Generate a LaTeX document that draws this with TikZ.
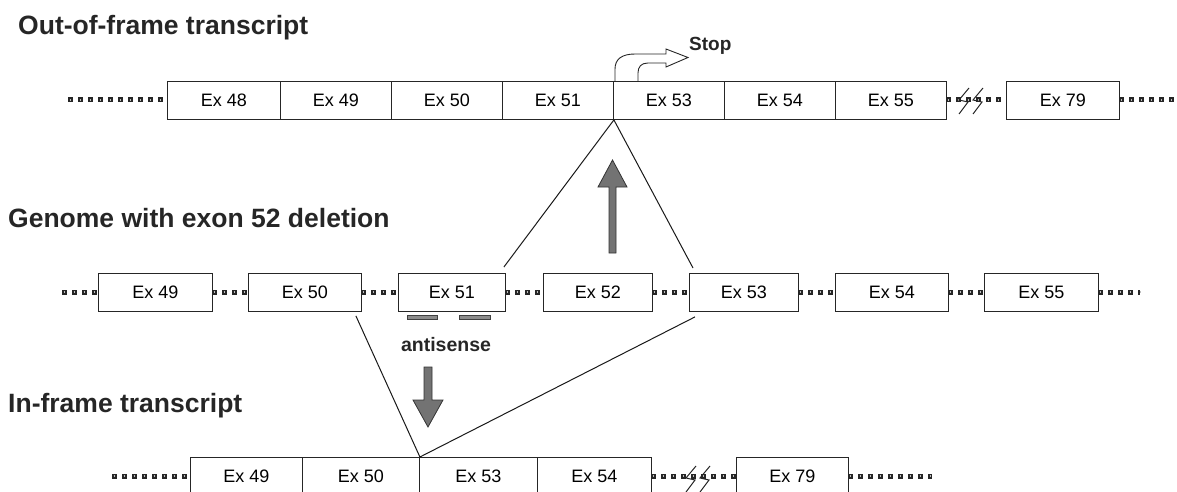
\documentclass[tikz,border=0pt]{standalone}
\usepackage{fontspec}
\setmainfont{Liberation Sans}
\usetikzlibrary{calc}
\begin{document}
\begin{tikzpicture}[x=1pt,y=-1pt,
  exon/.style={draw=black!85, line width=0.9pt, fill=white, minimum height=38pt,
    inner sep=0pt, anchor=north west, font=\fontsize{18}{20}\selectfont},
  heading/.style={anchor=base west, inner sep=0pt, text=black!85,
    font=\fontsize{26.5}{29}\selectfont\bfseries},
  dots/.style={draw=black!85, line width=5pt, dash pattern=on 5pt off 5pt,
    postaction={draw=black!25, line width=1.6pt,
      dash pattern=on 0pt off 1.7pt on 1.6pt off 6.7pt}},
  link/.style={draw=black!90, line width=1pt},
  brk/.style={draw=black!85, line width=1pt},
  bigarrow/.style={fill=black!55, draw=black!80, line width=0.8pt, line join=miter},
  probe/.style={fill=black!45, draw=black!75, line width=0.6pt}]
\useasboundingbox (0,0) rectangle (1177,492);
\clip (0,0) rectangle (1177,492);

% ---------- headings ----------
\node[heading] (h1) at (18,35) {Out-of-frame transcript};
\node[heading] (h2) at (8,227) {Genome with exon 52 deletion};
\node[heading] (h3) at (8,412) {In-frame transcript};

% ---------- out-of-frame transcript ----------
\draw[dots] (68,100) -- (167,100);
\draw[dots] (946,100) -- (1006,100);
\draw[dots] (1119,100) -- (1177,100);
\node[exon, minimum width=113pt] (o48) at (167,81) {Ex 48};
\node[exon, minimum width=111pt] (o49) at (280,81) {Ex 49};
\node[exon, minimum width=111pt] (o50) at (391,81) {Ex 50};
\node[exon, minimum width=111pt] (o51) at (502,81) {Ex 51};
\node[exon, minimum width=111pt] (o53) at (613,81) {Ex 53};
\node[exon, minimum width=111pt] (o54) at (724,81) {Ex 54};
\node[exon, minimum width=111pt] (o55) at (835,81) {Ex 55};
\node[exon, minimum width=113pt] (o79) at (1006,81) {Ex 79};
\coordinate (ob1) at (964,102);
\coordinate (ob2) at (978,102);
\foreach \c in {ob1,ob2}
  \draw[brk] (\c) ++(5,-14) -- ++(-10,12) -- ++(9,2) -- ++(-9,12);

% stop codon arrow
\begin{scope}[shift={(o53.north west)}]
  \draw[fill=white, draw=black!85, line width=0.9pt, line join=miter]
    (2,0) -- (2,-12) .. controls (2,-22) and (9,-27) .. (22,-27) -- (53,-27)
    -- (53,-32) -- (75,-23.5) -- (53,-14) -- (53,-18) -- (35,-18)
    .. controls (28,-18) and (25,-14) .. (25,-8) -- (25,0);
\end{scope}
\node[anchor=base west, inner sep=0pt, text=black!85,
  font=\fontsize{19}{21}\selectfont\bfseries] (stop) at (689,51) {Stop};

% ---------- genome with exon 52 deletion ----------
\draw[dots] (62,292) -- (98,292);
\draw[dots] (212,292) -- (248,292);
\draw[dots] (361,292) -- (398,292);
\draw[dots] (505,292) -- (543,292);
\draw[dots] (652,292) -- (689,292);
\draw[dots] (798,292) -- (835,292);
\draw[dots] (948,292) -- (984,292);
\draw[dots] (1098,292) -- (1140,292);
\node[exon, minimum width=114pt] (g49) at (98,273) {Ex 49};
\node[exon, minimum width=113pt] (g50) at (248,273) {Ex 50};
\node[exon, minimum width=107pt] (g51) at (398,273) {Ex 51};
\node[exon, minimum width=109pt] (g52) at (543,273) {Ex 52};
\node[exon, minimum width=109pt] (g53) at (689,273) {Ex 53};
\node[exon, minimum width=113pt] (g54) at (835,273) {Ex 54};
\node[exon, minimum width=114pt] (g55) at (984,273) {Ex 55};

% antisense oligonucleotides on exon 51
\draw[probe] (407,315) rectangle (437,319);
\draw[probe] (459,315) rectangle (490,319);
\node[anchor=base, inner sep=0pt, text=black!85,
  font=\fontsize{19.5}{21}\selectfont\bfseries] (anti) at (446,351) {antisense};

% ---------- in-frame transcript ----------
\draw[dots] (112,476) -- (190,476);
\draw[dots] (651,476) -- (736,476);
\draw[dots] (848,476) -- (932,476);
\node[exon, minimum width=112pt] (i49) at (190,457) {Ex 49};
\node[exon, minimum width=117pt] (i50) at (302,457) {Ex 50};
\node[exon, minimum width=118pt] (i53) at (419,457) {Ex 53};
\node[exon, minimum width=114pt] (i54) at (537,457) {Ex 54};
\node[exon, minimum width=112pt] (i79) at (736,457) {Ex 79};
\coordinate (ib1) at (691,480);
\coordinate (ib2) at (705,480);
\foreach \c in {ib1,ib2}
  \draw[brk] (\c) ++(5,-14) -- ++(-10,12) -- ++(9,2) -- ++(-9,12);

% ---------- splicing lines ----------
\draw[link] ([xshift=-2pt,yshift=6pt]g51.north east) -- (o51.south east)
  -- ([xshift=4pt,yshift=5pt]g53.north west);
\draw[link] ([xshift=-6pt,yshift=-4pt]g50.south east) -- (i50.north east)
  -- ([xshift=6pt,yshift=-5pt]g53.south west);

% ---------- block arrows ----------
\draw[bigarrow] (609,253) -- (609,187) -- (598,187) -- (612.5,160) -- (627,187)
  -- (616,187) -- (616,253) -- cycle;
\draw[bigarrow] (424,367) -- (424,400) -- (413,400) -- (428,427) -- (443,400)
  -- (432,400) -- (432,367) -- cycle;
\end{tikzpicture}
\end{document}
